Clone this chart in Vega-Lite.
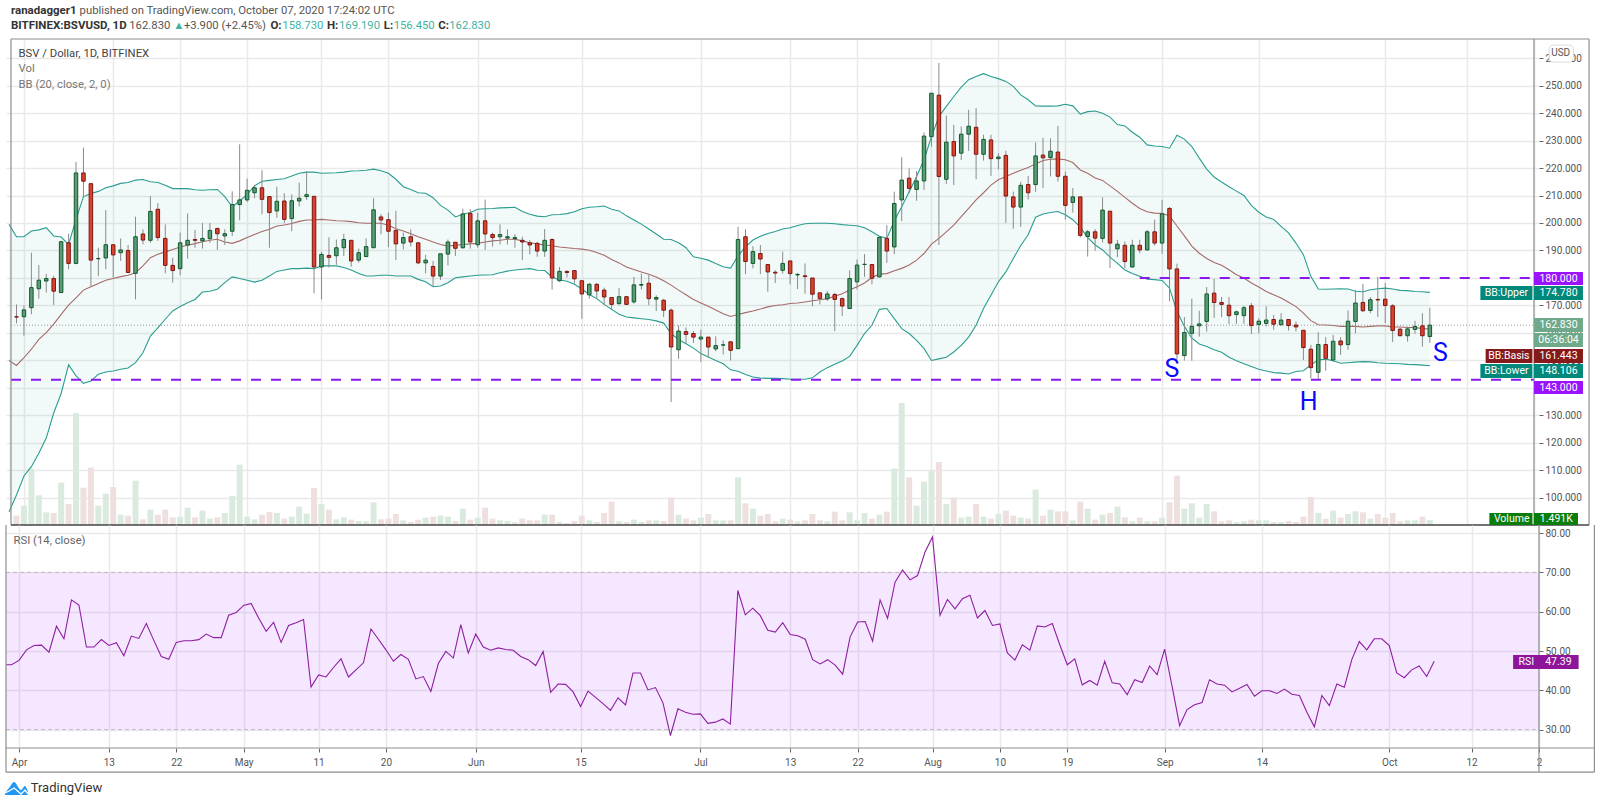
{
"$schema":"https://vega.github.io/schema/vega-lite/v6.json",
"background":"white",
"padding":0,
"autosize":{"type":"pad"},
"spacing":0,
"bounds":"flush",
"config":{"font":"Roboto","view":{"stroke":null},"axis":{"labelFont":"Roboto","labelFontSize":10,"labelColor":"#555555","tickColor":"#666666","tickSize":4,"gridColor":"#e9e9e9","gridWidth":1.5,"domain":false,"title":null}},
"datasets":{
"candles":[
{"date":"2020-03-30","upper":199.5,"basis":150,"lower":95,"rsi":46.5},
{"date":"2020-03-31","open":165.9,"high":170.4,"low":163.5,"close":165.8,"volume":2.8,"upper":195,"basis":148.2,"lower":101.1,"rsi":46.5},
{"date":"2020-04-01","open":165.9,"high":170,"low":159,"close":168.4,"volume":5.8,"upper":195,"basis":151,"lower":108,"rsi":47.6},
{"date":"2020-04-02","open":169.2,"high":189.2,"low":166.8,"close":176.5,"volume":16.9,"upper":197.1,"basis":154.1,"lower":111.4,"rsi":50.3},
{"date":"2020-04-03","open":176.1,"high":184.7,"low":172.5,"close":179.2,"volume":8.9,"upper":197.5,"basis":157.7,"lower":116.3,"rsi":51.4},
{"date":"2020-04-04","open":178.9,"high":181.5,"low":174.7,"close":179.8,"volume":3.8,"upper":198.3,"basis":160.1,"lower":121.8,"rsi":51.5},
{"date":"2020-04-05","open":179.8,"high":180.8,"low":170.2,"close":175.2,"volume":3.6,"upper":195.3,"basis":163.2,"lower":130.9,"rsi":49.7},
{"date":"2020-04-06","open":174.7,"high":193.5,"low":174.7,"close":193.2,"volume":12.7,"upper":194.9,"basis":166.8,"lower":138,"rsi":56.3},
{"date":"2020-04-07","open":192.8,"high":196.1,"low":183.2,"close":185.3,"volume":6.3,"upper":192.2,"basis":170.1,"lower":148.4,"rsi":53.1},
{"date":"2020-04-08","open":185.3,"high":222.2,"low":185,"close":218.2,"volume":33.6,"upper":201.3,"basis":172.8,"lower":144.4,"rsi":63},
{"date":"2020-04-09","open":218.2,"high":227.4,"low":209.2,"close":215.2,"volume":11.2,"upper":209.6,"basis":175.6,"lower":141.7,"rsi":61.7},
{"date":"2020-04-10","open":214.3,"high":214.3,"low":176.8,"close":186.5,"volume":17.2,"upper":210.7,"basis":176.8,"lower":142.5,"rsi":51},
{"date":"2020-04-11","open":187,"high":191,"low":180.7,"close":187.1,"volume":5.8,"upper":211.5,"basis":178,"lower":145,"rsi":51},
{"date":"2020-04-12","open":187.3,"high":204.7,"low":183.2,"close":192.1,"volume":9.4,"upper":212.8,"basis":179.2,"lower":145.8,"rsi":52.9},
{"date":"2020-04-13","open":192.1,"high":192.1,"low":180.1,"close":188.4,"volume":11.4,"upper":213.5,"basis":179.8,"lower":146.2,"rsi":51.4},
{"date":"2020-04-14","open":189.2,"high":194.4,"low":186.2,"close":190.2,"volume":3.1,"upper":214.4,"basis":180.5,"lower":146.8,"rsi":52.1},
{"date":"2020-04-15","open":190,"high":192,"low":182,"close":182,"volume":2.8,"upper":214.7,"basis":181,"lower":147.3,"rsi":48.8},
{"date":"2020-04-16","open":181.7,"high":202.3,"low":172.2,"close":195,"volume":13.3,"upper":215.6,"basis":181.9,"lower":149.2,"rsi":53.8},
{"date":"2020-04-17","open":196,"high":197.7,"low":192.2,"close":193.8,"volume":1.7,"upper":215.8,"basis":184.4,"lower":152.8,"rsi":53.2},
{"date":"2020-04-18","open":193.7,"high":209.8,"low":192.8,"close":204.2,"volume":4.6,"upper":215,"basis":187.4,"lower":158.9,"rsi":57},
{"date":"2020-04-19","open":205,"high":207.2,"low":193.5,"close":194.7,"volume":3.1,"upper":214.7,"basis":188.6,"lower":161.9,"rsi":52.7},
{"date":"2020-04-20","open":194.4,"high":199.5,"low":181.7,"close":184.6,"volume":4.6,"upper":213.7,"basis":189.5,"lower":165,"rsi":48.6},
{"date":"2020-04-21","open":184.6,"high":187.4,"low":178.3,"close":182.7,"volume":2.3,"upper":212.5,"basis":190.4,"lower":168,"rsi":47.9},
{"date":"2020-04-22","open":183.4,"high":196.5,"low":181,"close":192.8,"volume":2.5,"upper":212.5,"basis":191.3,"lower":169.6,"rsi":52.2},
{"date":"2020-04-23","open":192,"high":203.5,"low":187,"close":193.7,"volume":5.2,"upper":212.5,"basis":191.9,"lower":171,"rsi":52.6},
{"date":"2020-04-24","open":194,"high":197.5,"low":191,"close":193.7,"volume":2.3,"upper":212.1,"basis":192.5,"lower":172.2,"rsi":52.6},
{"date":"2020-04-25","open":193.5,"high":200,"low":190.7,"close":194.4,"volume":4.3,"upper":211.9,"basis":193.2,"lower":174.9,"rsi":52.9},
{"date":"2020-04-26","open":194.3,"high":200,"low":192.8,"close":197.3,"volume":1.9,"upper":212.1,"basis":193.7,"lower":175.2,"rsi":54.3},
{"date":"2020-04-27","open":198,"high":198.3,"low":190.2,"close":196.1,"volume":2.3,"upper":212.2,"basis":194.1,"lower":175.9,"rsi":53.4},
{"date":"2020-04-28","open":195.3,"high":197.7,"low":192,"close":196.1,"volume":3.6,"upper":209.6,"basis":193.1,"lower":178.3,"rsi":53.4},
{"date":"2020-04-29","open":197,"high":211.5,"low":195.3,"close":206.7,"volume":8.7,"upper":205.9,"basis":192.6,"lower":180.4,"rsi":59.1},
{"date":"2020-04-30","open":206.7,"high":228.6,"low":201,"close":208.4,"volume":18.1,"upper":208,"basis":193.5,"lower":179.8,"rsi":59.8},
{"date":"2020-05-01","open":208.4,"high":216.2,"low":207.6,"close":211.9,"volume":2.5,"upper":210.4,"basis":194.7,"lower":179.2,"rsi":61.6},
{"date":"2020-05-02","open":211,"high":213.9,"low":209,"close":212.8,"volume":1.7,"upper":213.5,"basis":195.8,"lower":178.5,"rsi":62.1},
{"date":"2020-05-03","open":212.8,"high":219.2,"low":203.2,"close":208.6,"volume":3.1,"upper":215.2,"basis":196.9,"lower":179.2,"rsi":58.4},
{"date":"2020-05-04","open":209.6,"high":209.6,"low":191,"close":203.8,"volume":3.9,"upper":215.5,"basis":197.7,"lower":180.7,"rsi":55},
{"date":"2020-05-05","open":204.4,"high":213.2,"low":201.9,"close":207.9,"volume":3.6,"upper":215.8,"basis":198.9,"lower":182.4,"rsi":57.3},
{"date":"2020-05-06","open":208,"high":210.8,"low":199.9,"close":201.3,"volume":1.9,"upper":216.1,"basis":199.3,"lower":182.9,"rsi":52.2},
{"date":"2020-05-07","open":201.6,"high":210.4,"low":197,"close":208.1,"volume":2.5,"upper":217.1,"basis":199.8,"lower":183.4,"rsi":56.5},
{"date":"2020-05-08","open":208,"high":214.7,"low":206,"close":209,"volume":5.5,"upper":218.1,"basis":200.6,"lower":183.4,"rsi":57.2},
{"date":"2020-05-09","open":209.6,"high":218.8,"low":208.4,"close":210.3,"volume":3.4,"upper":218.5,"basis":201.1,"lower":183.6,"rsi":58},
{"date":"2020-05-10","open":209.7,"high":209.7,"low":174.4,"close":184,"volume":11.1,"upper":218.5,"basis":201.1,"lower":183.4,"rsi":40.8},
{"date":"2020-05-11","open":184,"high":189.6,"low":172.2,"close":188.6,"volume":6.3,"upper":218.1,"basis":201.3,"lower":184.4,"rsi":43.9},
{"date":"2020-05-12","open":188.2,"high":194.8,"low":183.8,"close":187.5,"volume":4.6,"upper":218.2,"basis":201.1,"lower":184.4,"rsi":43.4},
{"date":"2020-05-13","open":188.1,"high":194,"low":184.8,"close":191,"volume":1.7,"upper":218.3,"basis":200.8,"lower":184.4,"rsi":45.8},
{"date":"2020-05-14","open":191,"high":196.1,"low":188,"close":194,"volume":2.3,"upper":218.5,"basis":200.7,"lower":183.8,"rsi":48},
{"date":"2020-05-15","open":193.7,"high":193.7,"low":184.1,"close":186.2,"volume":1.6,"upper":218.9,"basis":200.5,"lower":182.9,"rsi":43.4},
{"date":"2020-05-16","open":186.5,"high":190.7,"low":185.6,"close":189.2,"volume":1.2,"upper":219,"basis":200.1,"lower":181.6,"rsi":45.2},
{"date":"2020-05-17","open":187.8,"high":194.4,"low":187.8,"close":191.4,"volume":1.1,"upper":219.2,"basis":199.9,"lower":180.7,"rsi":47},
{"date":"2020-05-18","open":191,"high":209,"low":191,"close":204.8,"volume":6.8,"upper":219.6,"basis":199.9,"lower":180.7,"rsi":55.6},
{"date":"2020-05-19","open":202.2,"high":203.2,"low":195.9,"close":201.1,"volume":1.7,"upper":219,"basis":199.9,"lower":181,"rsi":53},
{"date":"2020-05-20","open":201.2,"high":203.8,"low":191.2,"close":197,"volume":1.9,"upper":218.1,"basis":199.2,"lower":181,"rsi":50.3},
{"date":"2020-05-21","open":197.3,"high":204.4,"low":186.5,"close":192.4,"volume":3.3,"upper":215.9,"basis":197.9,"lower":180.7,"rsi":47.4},
{"date":"2020-05-22","open":192.7,"high":196.5,"low":190.4,"close":194.7,"volume":1.4,"upper":213.2,"basis":197.1,"lower":180.7,"rsi":49.1},
{"date":"2020-05-23","open":195,"high":197.7,"low":191.4,"close":193.1,"volume":0.9,"upper":212.2,"basis":196.1,"lower":180.7,"rsi":47.9},
{"date":"2020-05-24","open":192.8,"high":192.8,"low":185,"close":185.5,"volume":1.6,"upper":211,"basis":195,"lower":179.5,"rsi":42.9},
{"date":"2020-05-25","open":185.5,"high":188.4,"low":181.7,"close":186.5,"volume":2.2,"upper":210.8,"basis":194.1,"lower":178.6,"rsi":43.5},
{"date":"2020-05-26","open":184.2,"high":186.2,"low":177.1,"close":180.7,"volume":2.5,"upper":209.2,"basis":193.1,"lower":176.8,"rsi":39.7},
{"date":"2020-05-27","open":180.7,"high":188.8,"low":179.3,"close":188.8,"volume":2.8,"upper":206.4,"basis":192.2,"lower":177.1,"rsi":46.8},
{"date":"2020-05-28","open":188.7,"high":194,"low":184.6,"close":193.1,"volume":2.5,"upper":204.7,"basis":191.6,"lower":178.3,"rsi":49.9},
{"date":"2020-05-29","open":193,"high":193,"low":188,"close":190.8,"volume":1.2,"upper":202.2,"basis":191.9,"lower":180.1,"rsi":48.2},
{"date":"2020-05-30","open":191,"high":205.2,"low":190.7,"close":203.3,"volume":4.9,"upper":203.2,"basis":192.2,"lower":180.4,"rsi":56.7},
{"date":"2020-05-31","open":203.5,"high":205,"low":190.7,"close":193.1,"volume":1.6,"upper":203.8,"basis":192.4,"lower":180.7,"rsi":49.5},
{"date":"2020-06-01","open":192.1,"high":203.8,"low":191,"close":200.8,"volume":2.2,"upper":205,"basis":192.6,"lower":181,"rsi":54.3},
{"date":"2020-06-02","open":200.8,"high":208.5,"low":190.2,"close":196,"volume":5.2,"upper":205.2,"basis":193.1,"lower":181.1,"rsi":51},
{"date":"2020-06-03","open":195.8,"high":196.5,"low":191.4,"close":194.7,"volume":1.9,"upper":205.3,"basis":193.5,"lower":181.2,"rsi":50.2},
{"date":"2020-06-04","open":195,"high":199.5,"low":192.2,"close":195.8,"volume":1.4,"upper":205.5,"basis":193.7,"lower":181.9,"rsi":50.8},
{"date":"2020-06-05","open":194.5,"high":197.7,"low":192.2,"close":195,"volume":1.2,"upper":205.6,"basis":194.1,"lower":182.5,"rsi":50.4},
{"date":"2020-06-06","open":194.3,"high":195.9,"low":191,"close":194.7,"volume":0.8,"upper":205.7,"basis":194.1,"lower":182.9,"rsi":50.2},
{"date":"2020-06-07","open":193.7,"high":195,"low":186.5,"close":193.1,"volume":1.9,"upper":204.2,"basis":193.5,"lower":183.2,"rsi":48.6},
{"date":"2020-06-08","open":192.8,"high":193.8,"low":188.6,"close":192,"volume":1.4,"upper":203.2,"basis":192.8,"lower":183.4,"rsi":47.8},
{"date":"2020-06-09","open":192.6,"high":193.2,"low":187.7,"close":189.8,"volume":1.4,"upper":202.5,"basis":192.4,"lower":182.8,"rsi":46.3},
{"date":"2020-06-10","open":189.8,"high":197.8,"low":187.7,"close":193.7,"volume":3.1,"upper":202.3,"basis":192,"lower":182.7,"rsi":49.9},
{"date":"2020-06-11","open":194,"high":194.4,"low":175.8,"close":180,"volume":3.1,"upper":203,"basis":191.7,"lower":180.4,"rsi":39.5},
{"date":"2020-06-12","open":179,"high":184,"low":178.6,"close":182.4,"volume":0.9,"upper":203.1,"basis":191.3,"lower":179.3,"rsi":41.6},
{"date":"2020-06-13","open":182.4,"high":182.8,"low":180.2,"close":182,"volume":0.6,"upper":203.4,"basis":191,"lower":178.8,"rsi":41.5},
{"date":"2020-06-14","open":182.7,"high":182.7,"low":178,"close":179.7,"volume":1.2,"upper":204.1,"basis":190.7,"lower":177.7,"rsi":39.6},
{"date":"2020-06-15","open":179,"high":179,"low":165.2,"close":174.2,"volume":2.8,"upper":205.2,"basis":190.5,"lower":176,"rsi":35.9},
{"date":"2020-06-16","open":173.9,"high":178.2,"low":172.5,"close":177.7,"volume":1.4,"upper":205.7,"basis":190.1,"lower":174,"rsi":39.8},
{"date":"2020-06-17","open":177.7,"high":178.2,"low":172.5,"close":175.3,"volume":0.9,"upper":205.9,"basis":189.3,"lower":172.5,"rsi":38.2},
{"date":"2020-06-18","open":175.6,"high":176.5,"low":170.1,"close":173.1,"volume":3.6,"upper":206.2,"basis":188.3,"lower":170.4,"rsi":36.6},
{"date":"2020-06-19","open":172.9,"high":172.9,"low":168.3,"close":170.4,"volume":7,"upper":205,"basis":186.7,"lower":168.6,"rsi":34.9},
{"date":"2020-06-20","open":170.7,"high":176.3,"low":170.1,"close":173.2,"volume":1.1,"upper":204.4,"basis":185.5,"lower":166.8,"rsi":38.1},
{"date":"2020-06-21","open":173.2,"high":173.2,"low":170.4,"close":170.4,"volume":0.9,"upper":202.6,"basis":184,"lower":165.8,"rsi":36.3},
{"date":"2020-06-22","open":171.3,"high":180.4,"low":170.7,"close":177.5,"volume":1.6,"upper":201.1,"basis":183.1,"lower":165.5,"rsi":44.4},
{"date":"2020-06-23","open":177.4,"high":181.6,"low":175.8,"close":177.6,"volume":0.9,"upper":199.6,"basis":182.2,"lower":165.2,"rsi":44.4},
{"date":"2020-06-24","open":178.1,"high":181,"low":170.1,"close":172.5,"volume":1.4,"upper":197.8,"basis":181.4,"lower":164.9,"rsi":40.1},
{"date":"2020-06-25","open":172.3,"high":173.7,"low":168,"close":172.9,"volume":1.4,"upper":196,"basis":180.4,"lower":164.4,"rsi":40.7},
{"date":"2020-06-26","open":171.9,"high":172.4,"low":165.8,"close":168.3,"volume":1.2,"upper":194.1,"basis":179,"lower":163.6,"rsi":36.8},
{"date":"2020-06-27","open":168.3,"high":168.9,"low":134.9,"close":154.9,"volume":8.2,"upper":194,"basis":177.4,"lower":159.8,"rsi":28.5},
{"date":"2020-06-28","open":153.9,"high":162.8,"low":150.6,"close":160.7,"volume":3.1,"upper":192.8,"basis":175.6,"lower":157.6,"rsi":35.3},
{"date":"2020-06-29","open":160.5,"high":162,"low":156,"close":159.5,"volume":1.9,"upper":191,"basis":173.9,"lower":156.1,"rsi":34.4},
{"date":"2020-06-30","open":159.8,"high":160.7,"low":156.4,"close":158.5,"volume":1.4,"upper":187.7,"basis":172.2,"lower":154.5,"rsi":33.9},
{"date":"2020-07-01","open":157.8,"high":161.2,"low":149.4,"close":158.5,"volume":2.2,"upper":187.2,"basis":170.9,"lower":152.5,"rsi":34},
{"date":"2020-07-02","open":158.5,"high":158.5,"low":151.2,"close":154.9,"volume":3.3,"upper":186.5,"basis":169.7,"lower":151.3,"rsi":31.6},
{"date":"2020-07-03","open":154.2,"high":158.8,"low":153.4,"close":155.4,"volume":1.4,"upper":185.3,"basis":168.4,"lower":150,"rsi":31.9},
{"date":"2020-07-04","open":155.6,"high":157.3,"low":152.2,"close":155.7,"volume":1.4,"upper":184.1,"basis":167,"lower":148.8,"rsi":32.7},
{"date":"2020-07-05","open":156.8,"high":156.8,"low":150,"close":153.7,"volume":1.4,"upper":183.6,"basis":166,"lower":146.6,"rsi":31.4},
{"date":"2020-07-06","open":154.3,"high":198.6,"low":154.3,"close":194,"volume":14.3,"upper":188.1,"basis":166.7,"lower":146.1,"rsi":65.4},
{"date":"2020-07-07","open":195,"high":197.7,"low":181.4,"close":186,"volume":6.5,"upper":191.3,"basis":167.4,"lower":144.9,"rsi":59.2},
{"date":"2020-07-08","open":185.3,"high":191.6,"low":183.5,"close":189.6,"volume":4.9,"upper":193.8,"basis":168,"lower":144,"rsi":60.9},
{"date":"2020-07-09","open":188.9,"high":192,"low":181.4,"close":186.9,"volume":2.8,"upper":195.2,"basis":168.7,"lower":143.6,"rsi":59},
{"date":"2020-07-10","open":184.9,"high":184.9,"low":175,"close":182.2,"volume":3.3,"upper":196.2,"basis":169.5,"lower":143.5,"rsi":55.3},
{"date":"2020-07-11","open":182.1,"high":182.8,"low":178.2,"close":181.8,"volume":1.1,"upper":196.9,"basis":170,"lower":143.5,"rsi":54.8},
{"date":"2020-07-12","open":182.8,"high":189.6,"low":181.6,"close":185.3,"volume":1.9,"upper":197.8,"basis":170.3,"lower":143.4,"rsi":57.2},
{"date":"2020-07-13","open":186.2,"high":186.2,"low":177.7,"close":181.6,"volume":1.6,"upper":198.3,"basis":170.7,"lower":143.2,"rsi":54.2},
{"date":"2020-07-14","open":181.1,"high":181.9,"low":176,"close":181.3,"volume":1.1,"upper":199.1,"basis":170.9,"lower":143.2,"rsi":53.9},
{"date":"2020-07-15","open":180.8,"high":185.3,"low":174.3,"close":180.5,"volume":1.4,"upper":199.7,"basis":171.3,"lower":143.2,"rsi":53},
{"date":"2020-07-16","open":180,"high":180,"low":169.7,"close":174.1,"volume":3.3,"upper":199.9,"basis":171.7,"lower":143.7,"rsi":47.8},
{"date":"2020-07-17","open":174.6,"high":174.6,"low":170.4,"close":172.6,"volume":1.4,"upper":199.9,"basis":172.1,"lower":145.8,"rsi":46.7},
{"date":"2020-07-18","open":172.4,"high":175.3,"low":171.7,"close":174.2,"volume":1.1,"upper":199.9,"basis":172.5,"lower":147.4,"rsi":47.8},
{"date":"2020-07-19","open":174,"high":174.6,"low":160.7,"close":172.2,"volume":4,"upper":199.7,"basis":173.4,"lower":148.6,"rsi":46.4},
{"date":"2020-07-20","open":172.5,"high":172.9,"low":166.2,"close":169.8,"volume":1.4,"upper":199.4,"basis":174.3,"lower":149.8,"rsi":44.1},
{"date":"2020-07-21","open":168.9,"high":182.8,"low":168.9,"close":179.8,"volume":3.8,"upper":199.2,"basis":175.6,"lower":151.5,"rsi":53.6},
{"date":"2020-07-22","open":178.6,"high":186.7,"low":175.8,"close":184.7,"volume":1.4,"upper":199,"basis":176.8,"lower":155.5,"rsi":57.4},
{"date":"2020-07-23","open":184.9,"high":188.7,"low":180.4,"close":185,"volume":3.6,"upper":198.3,"basis":178.2,"lower":159.8,"rsi":57.5},
{"date":"2020-07-24","open":184.9,"high":184.9,"low":177.7,"close":179.9,"volume":1.9,"upper":196.8,"basis":180.2,"lower":162.8,"rsi":52.5},
{"date":"2020-07-25","open":180.4,"high":194.8,"low":180.2,"close":194.8,"volume":3.1,"upper":195.2,"basis":181.4,"lower":168.6,"rsi":63},
{"date":"2020-07-26","open":194.4,"high":199.2,"low":185.5,"close":189.8,"volume":4,"upper":194.4,"basis":181.6,"lower":168.9,"rsi":58.3},
{"date":"2020-07-27","open":191.3,"high":211.4,"low":188.7,"close":207.1,"volume":16.9,"upper":200.8,"basis":182.6,"lower":165.2,"rsi":67.5},
{"date":"2020-07-28","open":208.4,"high":223.9,"low":200.7,"close":215.6,"volume":36.6,"upper":205.9,"basis":183.5,"lower":161.6,"rsi":70.6},
{"date":"2020-07-29","open":216.3,"high":219.9,"low":210.8,"close":212.6,"volume":14.3,"upper":211.4,"basis":184.7,"lower":159.8,"rsi":68.1},
{"date":"2020-07-30","open":212.2,"high":218.9,"low":208.1,"close":215.3,"volume":5.8,"upper":216.9,"basis":186.5,"lower":157.3,"rsi":69.2},
{"date":"2020-07-31","open":215.3,"high":232.9,"low":212,"close":231.6,"volume":13,"upper":223,"basis":188.9,"lower":154.3,"rsi":75.2},
{"date":"2020-08-01","open":231.4,"high":247.2,"low":227.8,"close":247.2,"volume":16.3,"upper":231.4,"basis":192.3,"lower":150,"rsi":79},
{"date":"2020-08-02","open":246.5,"high":258.2,"low":192,"close":216.9,"volume":18.9,"upper":238.7,"basis":194.4,"lower":150.6,"rsi":59.1},
{"date":"2020-08-03","open":215.9,"high":239.1,"low":214.2,"close":229.4,"volume":6.3,"upper":242.4,"basis":196.8,"lower":151.2,"rsi":63.1},
{"date":"2020-08-04","open":229.6,"high":235.7,"low":213.8,"close":224.4,"volume":8.2,"upper":246,"basis":199.2,"lower":153.1,"rsi":60.7},
{"date":"2020-08-05","open":225.4,"high":235.1,"low":222.9,"close":232.3,"volume":2.2,"upper":249.4,"basis":202.3,"lower":155.5,"rsi":63.3},
{"date":"2020-08-06","open":232.3,"high":241.2,"low":226.2,"close":235.2,"volume":2.5,"upper":252.1,"basis":205.3,"lower":158.5,"rsi":64.2},
{"date":"2020-08-07","open":234.8,"high":241.8,"low":215.9,"close":225,"volume":6.3,"upper":253.3,"basis":208.4,"lower":162.8,"rsi":58.4},
{"date":"2020-08-08","open":225,"high":232.1,"low":222.7,"close":230.4,"volume":2.5,"upper":254.3,"basis":211,"lower":168.9,"rsi":60.3},
{"date":"2020-08-09","open":230.2,"high":232.1,"low":217.1,"close":223.4,"volume":1.9,"upper":253.3,"basis":213.8,"lower":173.7,"rsi":56.5},
{"date":"2020-08-10","open":223.4,"high":225.4,"low":219.5,"close":224,"volume":3.3,"upper":252.5,"basis":215.7,"lower":178.6,"rsi":56.9},
{"date":"2020-08-11","open":224.6,"high":226.3,"low":200.1,"close":209.8,"volume":4.3,"upper":251.5,"basis":216.9,"lower":182.2,"rsi":49.5},
{"date":"2020-08-12","open":209.5,"high":211.4,"low":197.9,"close":205.8,"volume":2.8,"upper":249.7,"basis":218.1,"lower":187.1,"rsi":47.7},
{"date":"2020-08-13","open":205.8,"high":215,"low":198.6,"close":213.7,"volume":2.2,"upper":246.6,"basis":219.2,"lower":191.8,"rsi":51.6},
{"date":"2020-08-14","open":214,"high":217.1,"low":208.6,"close":211,"volume":1.9,"upper":244.8,"basis":220.2,"lower":195.7,"rsi":50.2},
{"date":"2020-08-15","open":214,"high":229.3,"low":211.3,"close":224.4,"volume":10.6,"upper":242.6,"basis":221.5,"lower":202.1,"rsi":56.4},
{"date":"2020-08-16","open":224.7,"high":231,"low":212.7,"close":223.7,"volume":2.8,"upper":242.5,"basis":222.7,"lower":203.3,"rsi":56.1},
{"date":"2020-08-17","open":223.8,"high":230.8,"low":216.9,"close":226.1,"volume":4.6,"upper":242.5,"basis":223.2,"lower":203.8,"rsi":57},
{"date":"2020-08-18","open":225.8,"high":235.3,"low":215.1,"close":217,"volume":4.1,"upper":242.6,"basis":223.3,"lower":204.2,"rsi":51.6},
{"date":"2020-08-19","open":217,"high":218.7,"low":201.2,"close":206.4,"volume":4.1,"upper":243.2,"basis":223,"lower":203,"rsi":46.5},
{"date":"2020-08-20","open":207.5,"high":212.7,"low":203.8,"close":209.5,"volume":1.4,"upper":242.6,"basis":222,"lower":201.2,"rsi":48},
{"date":"2020-08-21","open":209.5,"high":209.5,"low":194.7,"close":195.5,"volume":7,"upper":239.6,"basis":219.3,"lower":198.5,"rsi":41.4},
{"date":"2020-08-22","open":195.1,"high":197.5,"low":187.8,"close":196.8,"volume":4.9,"upper":240.5,"basis":218.1,"lower":194.7,"rsi":42.5},
{"date":"2020-08-23","open":196.8,"high":197.8,"low":189.9,"close":194.5,"volume":1.6,"upper":240.7,"basis":216.4,"lower":192,"rsi":41.3},
{"date":"2020-08-24","open":194.4,"high":209.3,"low":192.9,"close":204.7,"volume":3.1,"upper":239.9,"basis":215.5,"lower":190.2,"rsi":47.4},
{"date":"2020-08-25","open":204.3,"high":204.3,"low":183.6,"close":192.7,"volume":3.6,"upper":238.5,"basis":213.5,"lower":187.6,"rsi":41.9},
{"date":"2020-08-26","open":190.6,"high":193.9,"low":187.6,"close":192.3,"volume":5.5,"upper":235.8,"basis":211.5,"lower":185.3,"rsi":41.6},
{"date":"2020-08-27","open":191.9,"high":193.3,"low":183.6,"close":186,"volume":2.3,"upper":235.3,"basis":209.3,"lower":182.9,"rsi":38.9},
{"date":"2020-08-28","open":184,"high":193.9,"low":183.8,"close":191.9,"volume":1.1,"upper":233,"basis":207.2,"lower":181.6,"rsi":42.7},
{"date":"2020-08-29","open":191.9,"high":193.9,"low":189,"close":190.2,"volume":2.2,"upper":231.2,"basis":205.3,"lower":180.6,"rsi":42},
{"date":"2020-08-30","open":190.2,"high":197.5,"low":190,"close":196.8,"volume":1.1,"upper":228.4,"basis":204.1,"lower":179.6,"rsi":46.2},
{"date":"2020-08-31","open":196.8,"high":201.2,"low":191.8,"close":192.7,"volume":1.1,"upper":228,"basis":203.6,"lower":179.4,"rsi":44},
{"date":"2020-09-01","open":192.7,"high":208.4,"low":188.8,"close":203.3,"volume":2.2,"upper":227.8,"basis":203.5,"lower":179.1,"rsi":50.5},
{"date":"2020-09-02","open":205.3,"high":205.8,"low":171.5,"close":183.3,"volume":6.8,"upper":227.2,"basis":202.6,"lower":176.3,"rsi":41},
{"date":"2020-09-03","open":183.3,"high":185.2,"low":150.2,"close":152.4,"volume":14.8,"upper":231.9,"basis":198.9,"lower":167.8,"rsi":31},
{"date":"2020-09-04","open":151.8,"high":165.8,"low":150,"close":160.2,"volume":4.9,"upper":230.5,"basis":195.3,"lower":162.4,"rsi":35.1},
{"date":"2020-09-05","open":159.9,"high":172.5,"low":149.9,"close":162.4,"volume":6.5,"upper":227.8,"basis":191.6,"lower":158.1,"rsi":36.3},
{"date":"2020-09-06","open":162.6,"high":168.1,"low":158.7,"close":163.3,"volume":2.2,"upper":223.6,"basis":189,"lower":156,"rsi":36.9},
{"date":"2020-09-07","open":164.2,"high":176.7,"low":160.5,"close":174.2,"volume":6.3,"upper":219.6,"basis":187.1,"lower":155.1,"rsi":42.7},
{"date":"2020-09-08","open":174.5,"high":179.7,"low":165.5,"close":171.1,"volume":4.1,"upper":216.7,"basis":185.6,"lower":153.9,"rsi":41.6},
{"date":"2020-09-09","open":171.1,"high":173.1,"low":165.8,"close":170.4,"volume":1.1,"upper":214.9,"basis":184.6,"lower":153,"rsi":41.3},
{"date":"2020-09-10","open":170.1,"high":173.1,"low":163.2,"close":166.3,"volume":1.4,"upper":213.2,"basis":183,"lower":151.2,"rsi":39.6},
{"date":"2020-09-11","open":166.7,"high":168.1,"low":163.3,"close":167.7,"volume":0.8,"upper":211.6,"basis":181.2,"lower":149.9,"rsi":40.5},
{"date":"2020-09-12","open":166.3,"high":169.9,"low":163.3,"close":169.2,"volume":1.1,"upper":210,"basis":180,"lower":148.8,"rsi":41.5},
{"date":"2020-09-13","open":169.9,"high":170.9,"low":159.6,"close":162.7,"volume":1.6,"upper":206.4,"basis":178.2,"lower":147.8,"rsi":38.5},
{"date":"2020-09-14","open":163.1,"high":165.4,"low":159.9,"close":164.3,"volume":1.4,"upper":203.9,"basis":176.7,"lower":146.8,"rsi":39.9},
{"date":"2020-09-15","open":163.5,"high":169.7,"low":162.4,"close":164.7,"volume":1.4,"upper":202.2,"basis":175.1,"lower":146.2,"rsi":39.9},
{"date":"2020-09-16","open":164.9,"high":166.6,"low":161.2,"close":163.2,"volume":0.9,"upper":201.3,"basis":173.9,"lower":145.6,"rsi":39.2},
{"date":"2020-09-17","open":163,"high":167.2,"low":162.7,"close":164.7,"volume":0.9,"upper":198.8,"basis":172.7,"lower":145.4,"rsi":40.3},
{"date":"2020-09-18","open":164.9,"high":164.9,"low":160.9,"close":162.7,"volume":1.2,"upper":196.4,"basis":171.2,"lower":145.1,"rsi":39},
{"date":"2020-09-19","open":162.9,"high":164.2,"low":160.5,"close":162.2,"volume":0.9,"upper":192.7,"basis":169.6,"lower":146,"rsi":38.7},
{"date":"2020-09-20","open":161,"high":161,"low":150.2,"close":154.7,"volume":2.5,"upper":188.5,"basis":167.2,"lower":146.3,"rsi":34.4},
{"date":"2020-09-21","open":154.1,"high":155.7,"low":143.5,"close":147.4,"volume":8.4,"upper":180.6,"basis":164.5,"lower":148.4,"rsi":30.7},
{"date":"2020-09-22","open":145.7,"high":160.3,"low":142.9,"close":155.8,"volume":3.6,"upper":176,"basis":163,"lower":150.2,"rsi":38.7},
{"date":"2020-09-23","open":155.8,"high":158.5,"low":146.3,"close":150.8,"volume":1.9,"upper":175.9,"basis":162.9,"lower":150.5,"rsi":36.1},
{"date":"2020-09-24","open":150.2,"high":159.3,"low":149.6,"close":157,"volume":4.3,"upper":176,"basis":162.7,"lower":149.9,"rsi":41.6},
{"date":"2020-09-25","open":157.1,"high":158.5,"low":152,"close":155.7,"volume":2.2,"upper":176.1,"basis":162.4,"lower":149,"rsi":40.8},
{"date":"2020-09-26","open":155.8,"high":168.2,"low":153.9,"close":164.3,"volume":3.3,"upper":176,"basis":162.4,"lower":149.2,"rsi":47.8},
{"date":"2020-09-27","open":164.2,"high":175.7,"low":159.9,"close":170.9,"volume":4.1,"upper":175.2,"basis":162.4,"lower":149.4,"rsi":52.4},
{"date":"2020-09-28","open":171.1,"high":177.9,"low":167.6,"close":168.1,"volume":3.8,"upper":175,"basis":162.2,"lower":149.6,"rsi":50.3},
{"date":"2020-09-29","open":168.2,"high":173.1,"low":167.2,"close":172.1,"volume":1.9,"upper":175.7,"basis":162.4,"lower":149.5,"rsi":53.1},
{"date":"2020-09-30","open":172.2,"high":180.4,"low":165.8,"close":172,"volume":3.3,"upper":176.1,"basis":162.6,"lower":149.2,"rsi":53.1},
{"date":"2020-10-01","open":172.3,"high":178.2,"low":163.6,"close":170,"volume":2.2,"upper":176.3,"basis":162.6,"lower":149,"rsi":51.4},
{"date":"2020-10-02","open":169.9,"high":170.5,"low":156.7,"close":160.9,"volume":3.6,"upper":176,"basis":162.2,"lower":148.9,"rsi":44.4},
{"date":"2020-10-03","open":161.4,"high":161.8,"low":159,"close":159,"volume":1.1,"upper":175.5,"basis":162.2,"lower":148.8,"rsi":43.2},
{"date":"2020-10-04","open":159,"high":162.4,"low":156.9,"close":161.5,"volume":1.4,"upper":175.4,"basis":162,"lower":148.6,"rsi":45.2},
{"date":"2020-10-05","open":161.3,"high":164.4,"low":159.7,"close":162.4,"volume":1.4,"upper":175.1,"basis":162,"lower":148.5,"rsi":46.2},
{"date":"2020-10-06","open":162.6,"high":167.2,"low":155.1,"close":159,"volume":2.5,"upper":175,"basis":161.6,"lower":148.3,"rsi":43.5},
{"date":"2020-10-07","open":158.73,"high":169.19,"low":156.45,"close":162.83,"volume":1.491,"upper":174.78,"basis":161.443,"lower":148.106,"rsi":47.39}
],
"priceFrame":[
{"from":"2020-03-30T06:14:00Z","to":"2020-10-28T09:36:00Z","a":266.91,"b":266.91},
{"from":"2020-03-30T06:14:00Z","to":"2020-03-30T06:14:00Z","a":266.91,"b":90.18},
{"from":"2020-10-21","to":"2020-10-21","a":266.91,"b":90.18},
{"from":"2020-10-28T09:36:00Z","to":"2020-10-28T09:36:00Z","a":266.91,"b":90.18}
],
"rsiFrame":[
{"from":"2020-03-30T06:14:00Z","to":"2020-10-28T09:36:00Z","a":25.32,"b":25.32},
{"from":"2020-03-30T06:14:00Z","to":"2020-10-28T09:36:00Z","a":19.2,"b":19.2},
{"from":"2020-03-30T06:14:00Z","to":"2020-03-30T06:14:00Z","a":82.06,"b":19.2},
{"from":"2020-10-21","to":"2020-10-21","a":82.06,"b":19.2},
{"from":"2020-10-28T09:36:00Z","to":"2020-10-28T09:36:00Z","a":82.06,"b":19.2}
],
"levels":[
{"from":"2020-08-29","to":"2020-10-21","price":180},
{"from":"2020-03-30T06:14:00Z","to":"2020-10-21","price":143}
],
"priceTags":[
{"kind":"level","from":"2020-10-21","to":"2020-10-27T14:00:00Z","top":182.2,"bottom":177.45,"mid":179.8,"center":"2020-10-24T07:00:00Z","label":"180.000"},
{"kind":"band","from":"2020-10-21","to":"2020-10-27T14:00:00Z","top":177.1,"bottom":172,"mid":174.6,"center":"2020-10-24T07:00:00Z","label":"174.780"},
{"kind":"band","from":"2020-10-13T19:00:00Z","to":"2020-10-20T19:00:00Z","top":177.1,"bottom":172,"mid":174.6,"center":"2020-10-17T07:00:00Z","label":"BB:Upper"},
{"kind":"close","from":"2020-10-21","to":"2020-10-27T14:00:00Z","top":165.45,"bottom":160.36,"mid":162.9,"center":"2020-10-24T07:00:00Z","label":"162.830"},
{"kind":"close","from":"2020-10-21","to":"2020-10-27T14:00:00Z","top":160,"bottom":154.9,"mid":157.4,"center":"2020-10-24T07:00:00Z","label":"06:36:04"},
{"kind":"basis","from":"2020-10-21","to":"2020-10-27T14:00:00Z","top":154.2,"bottom":149.1,"mid":151.6,"center":"2020-10-24T07:00:00Z","label":"161.443"},
{"kind":"basis","from":"2020-10-14T12:00:00Z","to":"2020-10-20T19:00:00Z","top":154.2,"bottom":149.1,"mid":151.6,"center":"2020-10-17T15:00:00Z","label":"BB:Basis"},
{"kind":"band","from":"2020-10-21","to":"2020-10-27T14:00:00Z","top":148.7,"bottom":143.6,"mid":146.1,"center":"2020-10-24T07:00:00Z","label":"148.106"},
{"kind":"band","from":"2020-10-13T19:00:00Z","to":"2020-10-20T19:00:00Z","top":148.7,"bottom":143.6,"mid":146.1,"center":"2020-10-17T07:00:00Z","label":"BB:Lower"},
{"kind":"level","from":"2020-10-21","to":"2020-10-27T14:00:00Z","top":142.5,"bottom":137.8,"mid":140.1,"center":"2020-10-24T07:00:00Z","label":"143.000"},
{"kind":"volume","from":"2020-10-15","to":"2020-10-20T19:00:00Z","top":94.5,"bottom":90.18,"mid":92.3,"center":"2020-10-18","label":"Volume"},
{"kind":"volume","from":"2020-10-21","to":"2020-10-26T22:00:00Z","top":94.5,"bottom":90.18,"mid":92.3,"center":"2020-10-24","label":"1.491K"}
],
"rsiTags":[
{"from":"2020-10-17T13:00:00Z","to":"2020-10-26T07:00:00Z","top":49,"bottom":45.4}
],
"rsiTagText":[
{"center":"2020-10-19T07:00:00Z","mid":47.2,"label":"RSI"},
{"center":"2020-10-23T14:00:00Z","mid":47.2,"label":"47.39"}
],
"headerBold":[
{"at":"2020-03-30T06:14:00Z","price":277.1,"label":"ranadagger1"},
{"at":"2020-03-30T06:14:00Z","price":271.5,"label":"BITFINEX:BSVUSD, 1D"},
{"at":"2020-05-04T03:07:00Z","price":271.5,"label":"O:"},
{"at":"2020-05-11T17:46:00Z","price":271.5,"label":"H:"},
{"at":"2020-05-19T08:38:00Z","price":271.5,"label":"L:"},
{"at":"2020-05-26T16:48:00Z","price":271.5,"label":"C:"}
],
"header":[
{"kind":"plain","at":"2020-04-08T11:31:00Z","price":277.1,"label":"published on TradingView.com, October 07, 2020 17:24:02 UTC"},
{"kind":"plain","at":"2020-04-15T03:50:00Z","price":271.5,"label":"162.830"},
{"kind":"plain","at":"2020-04-22T12:00:00Z","price":271.5,"label":"+3.900 (+2.45%)"},
{"kind":"ohlc","at":"2020-04-21T02:00:00Z","price":271.5,"label":"▲"},
{"kind":"ohlc","at":"2020-05-05T17:31:00Z","price":271.5,"label":"158.730"},
{"kind":"ohlc","at":"2020-05-13T08:24:00Z","price":271.5,"label":"169.190"},
{"kind":"ohlc","at":"2020-05-20T16:48:00Z","price":271.5,"label":"156.450"},
{"kind":"ohlc","at":"2020-05-28T04:05:00Z","price":271.5,"label":"162.830"},
{"kind":"title","at":"2020-03-31T06:29:00Z","price":261.5,"label":"BSV / Dollar, 1D, BITFINEX"},
{"kind":"study","at":"2020-03-31T06:29:00Z","price":255.9,"label":"Vol"},
{"kind":"study","at":"2020-03-31T06:29:00Z","price":250.3,"label":"BB (20, close, 2, 0)"}
],
"pattern":[
{"at":"2020-09-02T08:00:00Z","price":147,"label":"S"},
{"at":"2020-09-20T17:00:00Z","price":134.9,"label":"H"},
{"at":"2020-10-08T10:00:00Z","price":152.7,"label":"S"}
],
"logo":[
{"at":"2020-03-30T03:00:00Z","top":13.87,"base":13.36,"zig":13.87},
{"at":"2020-03-30T16:00:00Z","top":15.14,"base":13.36,"zig":14.38},
{"at":"2020-03-31T08:00:00Z","top":16.67,"base":13.36,"zig":15.14},
{"at":"2020-04-01T06:24:00Z","top":14.63,"base":13.36,"zig":13.61},
{"at":"2020-04-01T19:00:00Z","top":15.65,"base":13.36,"zig":14.63},
{"at":"2020-04-02T05:00:00Z","top":14.12,"base":13.36,"zig":13.61}
]
},
"vconcat":[
{
"width":1533,"height":486,
"resolve":{"scale":{"y":"independent","color":"independent"}},
"layer":[
{"data":{"name":"candles"},"mark":{"type":"bar","size":6},
"encoding":{
"x":{"field":"date","type":"temporal","scale":{"type":"utc","domain":[1585548864000,1603238400000]},
"axis":{"values":[1585699200000,1586736000000,1587513600000,1588291200000,1589155200000,1589932800000,1590969600000,1592179200000,1593561600000,1594598400000,1595376000000,1596240000000,1597017600000,1597795200000,1598918400000,1600041600000,1601510400000,1602460800000,1603238400000],"labels":false,"ticks":false,"grid":true}},
"y":{"field":"volume","type":"quantitative","scale":{"domain":[0,145.8],"nice":false},"axis":null},
"color":{"condition":{"test":"datum.close >= datum.open","value":"#dbeadf"},"value":"#efe0e0"}}},
{"data":{"name":"candles"},"mark":{"type":"area","color":"#26a69a","opacity":0.06,"clip":true},
"encoding":{"x":{"field":"date","type":"temporal"},
"y":{"field":"upper","type":"quantitative","scale":{"domain":[90.18,266.91],"nice":false},
"axis":{"orient":"right","values":[100,110,120,130,140,150,160,170,180,190,200,210,220,230,240,250,260],"tickCount":17,"format":".3f","grid":true,"labelOverlap":false}},
"y2":{"field":"lower"}}},
{"data":{"name":"candles"},"mark":{"type":"line","color":"#2a9d90","strokeWidth":1.1,"clip":true},
"encoding":{"x":{"field":"date","type":"temporal"},"y":{"field":"upper","type":"quantitative","scale":{"domain":[90.18,266.91],"nice":false},"axis":null}}},
{"data":{"name":"candles"},"mark":{"type":"line","color":"#2a9d90","strokeWidth":1.1,"clip":true},
"encoding":{"x":{"field":"date","type":"temporal"},"y":{"field":"lower","type":"quantitative","scale":{"domain":[90.18,266.91],"nice":false},"axis":null}}},
{"data":{"name":"candles"},"mark":{"type":"line","color":"#a56a68","strokeWidth":1.1,"clip":true},
"encoding":{"x":{"field":"date","type":"temporal"},"y":{"field":"basis","type":"quantitative","scale":{"domain":[90.18,266.91],"nice":false},"axis":null}}},
{"data":{"values":[{"from":"2020-03-30T06:14:00Z","to":"2020-10-21","price":162.83}],"format":{"parse":{"to":"date"}}},"mark":{"type":"rule","color":"#9a9a9a","strokeDash":[1,2],"strokeWidth":1},
"encoding":{"x":{"field":"from","type":"temporal"},"x2":{"field":"to"},"y":{"field":"price","type":"quantitative","scale":{"domain":[90.18,266.91],"nice":false},"axis":null}}},
{"data":{"name":"candles"},"mark":{"type":"rule","color":"#8a8a8a","strokeWidth":1},
"encoding":{"x":{"field":"date","type":"temporal"},"y":{"field":"low","type":"quantitative","scale":{"domain":[90.18,266.91],"nice":false},"axis":null},"y2":{"field":"high"}}},
{"data":{"name":"candles"},"mark":{"type":"bar","size":3.5,"strokeWidth":1},
"encoding":{"x":{"field":"date","type":"temporal"},"y":{"field":"open","type":"quantitative","scale":{"domain":[90.18,266.91],"nice":false},"axis":null},"y2":{"field":"close"},
"color":{"condition":{"test":"datum.close >= datum.open","value":"#5d9b78"},"value":"#d9432c"},
"stroke":{"condition":{"test":"datum.close >= datum.open","value":"#0c5a2a"},"value":"#7d1512"}}},
{"data":{"name":"levels","format":{"parse":{"to":"date"}}},"mark":{"type":"rule","color":"#8a17f0","strokeWidth":2,"strokeDash":[10,10]},
"encoding":{"x":{"field":"from","type":"temporal"},"x2":{"field":"to"},"y":{"field":"price","type":"quantitative","scale":{"domain":[90.18,266.91],"nice":false},"axis":null}}},
{"data":{"name":"priceFrame","format":{"parse":{"to":"date"}}},"mark":{"type":"rule","color":"#8e8e8e","strokeWidth":1.2},
"encoding":{"x":{"field":"from","type":"temporal"},"x2":{"field":"to"},"y":{"field":"a","type":"quantitative","scale":{"domain":[90.18,266.91],"nice":false},"axis":null},"y2":{"field":"b"}}},
{"data":{"values":[{"from":"2020-03-30T06:14:00Z","to":"2020-10-28T09:36:00Z","price":90.18}],"format":{"parse":{"to":"date"}}},"mark":{"type":"rule","color":"#444444","strokeWidth":1.5},
"encoding":{"x":{"field":"from","type":"temporal"},"x2":{"field":"to"},"y":{"field":"price","type":"quantitative","scale":{"domain":[90.18,266.91],"nice":false},"axis":null}}},
{"data":{"name":"priceTags","format":{"parse":{"to":"date"}}},"mark":{"type":"rect"},
"encoding":{"x":{"field":"from","type":"temporal"},"x2":{"field":"to"},"y":{"field":"top","type":"quantitative","scale":{"domain":[90.18,266.91],"nice":false},"axis":null},"y2":{"field":"bottom"},
"color":{"field":"kind","type":"nominal","legend":null,"scale":{"domain":["level","band","close","basis","volume"],"range":["#9a12ff","#00897b","#6fa98a","#861a1a","#0a7d0a"]}}}},
{"data":{"name":"priceTags"},"mark":{"type":"text","color":"#ffffff","fontSize":10.5,"baseline":"middle","align":"center"},
"encoding":{"x":{"field":"center","type":"temporal"},"y":{"field":"mid","type":"quantitative","scale":{"domain":[90.18,266.91],"nice":false},"axis":null},"text":{"field":"label"}}},
{"data":{"values":[{"from":"2020-10-23T01:00:00Z","to":"2020-10-26T07:00:00Z","top":264.7,"bottom":258.5}],"format":{"parse":{"to":"date"}}},"mark":{"type":"rect","fill":"#ffffff","stroke":"#dcdcdc","cornerRadius":4},
"encoding":{"x":{"field":"from","type":"temporal"},"x2":{"field":"to"},"y":{"field":"top","type":"quantitative","scale":{"domain":[90.18,266.91],"nice":false},"axis":null},"y2":{"field":"bottom"}}},
{"data":{"values":[{"at":"2020-10-24T14:00:00Z","price":261.7,"label":"USD"}]},"mark":{"type":"text","color":"#555555","fontSize":10,"baseline":"middle","align":"center"},
"encoding":{"x":{"field":"at","type":"temporal"},"y":{"field":"price","type":"quantitative","scale":{"domain":[90.18,266.91],"nice":false},"axis":null},"text":{"field":"label"}}},
{"data":{"name":"headerBold"},"mark":{"type":"text","color":"#333333","fontSize":11.5,"fontWeight":"bold","baseline":"middle","align":"left"},
"encoding":{"x":{"field":"at","type":"temporal"},"y":{"field":"price","type":"quantitative","scale":{"domain":[90.18,266.91],"nice":false},"axis":null},"text":{"field":"label"}}},
{"data":{"name":"header"},"mark":{"type":"text","fontSize":11.3,"baseline":"middle","align":"left"},
"encoding":{"x":{"field":"at","type":"temporal"},"y":{"field":"price","type":"quantitative","scale":{"domain":[90.18,266.91],"nice":false},"axis":null},"text":{"field":"label"},
"color":{"field":"kind","type":"nominal","legend":null,"scale":{"domain":["plain","ohlc","title","study"],"range":["#555555","#3fb3a3","#444444","#777777"]}}}},
{"data":{"name":"pattern"},"mark":{"type":"text","color":"#0a0aff","fontSize":25,"baseline":"middle","align":"center"},
"encoding":{"x":{"field":"at","type":"temporal"},"y":{"field":"price","type":"quantitative","scale":{"domain":[90.18,266.91],"nice":false},"axis":null},"text":{"field":"label"}}},
{"data":{"values":[{"from":"2020-03-29T13:00:00Z","to":"2020-10-29T08:00:00Z","price":281.09}],"format":{"parse":{"to":"date"}}},"mark":{"type":"rule","strokeWidth":0,"opacity":0},
"encoding":{"x":{"field":"from","type":"temporal"},"x2":{"field":"to"},"y":{"field":"price","type":"quantitative","scale":{"domain":[90.18,266.91],"nice":false},"axis":null}}}
]
},
{
"width":1533,"height":223,
"layer":[
{"data":{"values":[{"from":"2020-03-30T06:14:00Z","to":"2020-10-21","low":30,"high":70}],"format":{"parse":{"to":"date"}}},"mark":{"type":"rect","color":"#9915ff","opacity":0.1},
"encoding":{
"x":{"field":"from","type":"temporal","scale":{"type":"utc","domain":[1585548864000,1603238400000]},
"axis":{"values":[1585699200000,1586736000000,1587513600000,1588291200000,1589155200000,1589932800000,1590969600000,1592179200000,1593561600000,1594598400000,1595376000000,1596240000000,1597017600000,1597795200000,1598918400000,1600041600000,1601510400000,1602460800000,1603238400000],"grid":true,"labelFlush":false,"labelOverlap":false,"labelPadding":5,
"labelExpr":"utcdate(datum.value)==1 ? utcFormat(datum.value,'%b') : (utcmonth(datum.value)==9 && utcdate(datum.value)==21 ? '2' : utcFormat(datum.value,'%-d'))"}},
"x2":{"field":"to"},
"y":{"field":"low","type":"quantitative","scale":{"domain":[25.32,82.06],"nice":false},
"axis":{"orient":"right","values":[30,40,50,60,70,80],"format":".2f","grid":true,"labelOverlap":false}},
"y2":{"field":"high"}}},
{"data":{"values":[{"from":"2020-03-30T06:14:00Z","to":"2020-10-21","level":30},{"from":"2020-03-30T06:14:00Z","to":"2020-10-21","level":70}],"format":{"parse":{"to":"date"}}},"mark":{"type":"rule","color":"#c4b6cc","strokeDash":[4,3],"strokeWidth":1},
"encoding":{"x":{"field":"from","type":"temporal"},"x2":{"field":"to"},"y":{"field":"level","type":"quantitative"}}},
{"data":{"name":"candles"},"mark":{"type":"line","color":"#8e1fa0","strokeWidth":1.1,"clip":true},
"encoding":{"x":{"field":"date","type":"temporal"},"y":{"field":"rsi","type":"quantitative"}}},
{"data":{"name":"rsiFrame","format":{"parse":{"to":"date"}}},"mark":{"type":"rule","color":"#8e8e8e","strokeWidth":1.2},
"encoding":{"x":{"field":"from","type":"temporal"},"x2":{"field":"to"},"y":{"field":"a","type":"quantitative"},"y2":{"field":"b"}}},
{"data":{"name":"rsiTags","format":{"parse":{"to":"date"}}},"mark":{"type":"rect","color":"#8e1599"},
"encoding":{"x":{"field":"from","type":"temporal"},"x2":{"field":"to"},"y":{"field":"top","type":"quantitative"},"y2":{"field":"bottom"}}},
{"data":{"name":"rsiTagText"},"mark":{"type":"text","color":"#ffffff","fontSize":10.5,"baseline":"middle","align":"center"},
"encoding":{"x":{"field":"center","type":"temporal"},"y":{"field":"mid","type":"quantitative"},"text":{"field":"label"}}},
{"data":{"values":[{"at":"2020-03-31T06:29:00Z","rsi":78.07,"label":"RSI (14, close)"}]},"mark":{"type":"text","color":"#666666","fontSize":11.3,"baseline":"middle","align":"left"},
"encoding":{"x":{"field":"at","type":"temporal"},"y":{"field":"rsi","type":"quantitative"},"text":{"field":"label"}}},
{"data":{"name":"logo"},"mark":{"type":"area","color":"#2196f3","interpolate":"monotone"},
"encoding":{"x":{"field":"at","type":"temporal"},"y":{"field":"top","type":"quantitative"},"y2":{"field":"base"}}},
{"data":{"name":"logo"},"mark":{"type":"line","color":"#ffffff","strokeWidth":1.3},
"encoding":{"x":{"field":"at","type":"temporal"},"y":{"field":"zig","type":"quantitative"}}},
{"data":{"values":[{"at":"2020-04-02T13:12:00Z","rsi":15.14,"label":"TradingView"}]},"mark":{"type":"text","color":"#333333","fontSize":13,"baseline":"middle","align":"left"},
"encoding":{"x":{"field":"at","type":"temporal"},"y":{"field":"rsi","type":"quantitative"},"text":{"field":"label"}}},
{"data":{"values":[{"from":"2020-03-29T13:00:00Z","to":"2020-10-29T08:00:00Z","rsi":10.81}],"format":{"parse":{"to":"date"}}},"mark":{"type":"rule","strokeWidth":0,"opacity":0},
"encoding":{"x":{"field":"from","type":"temporal"},"x2":{"field":"to"},"y":{"field":"rsi","type":"quantitative"}}}
]
}
]
}
